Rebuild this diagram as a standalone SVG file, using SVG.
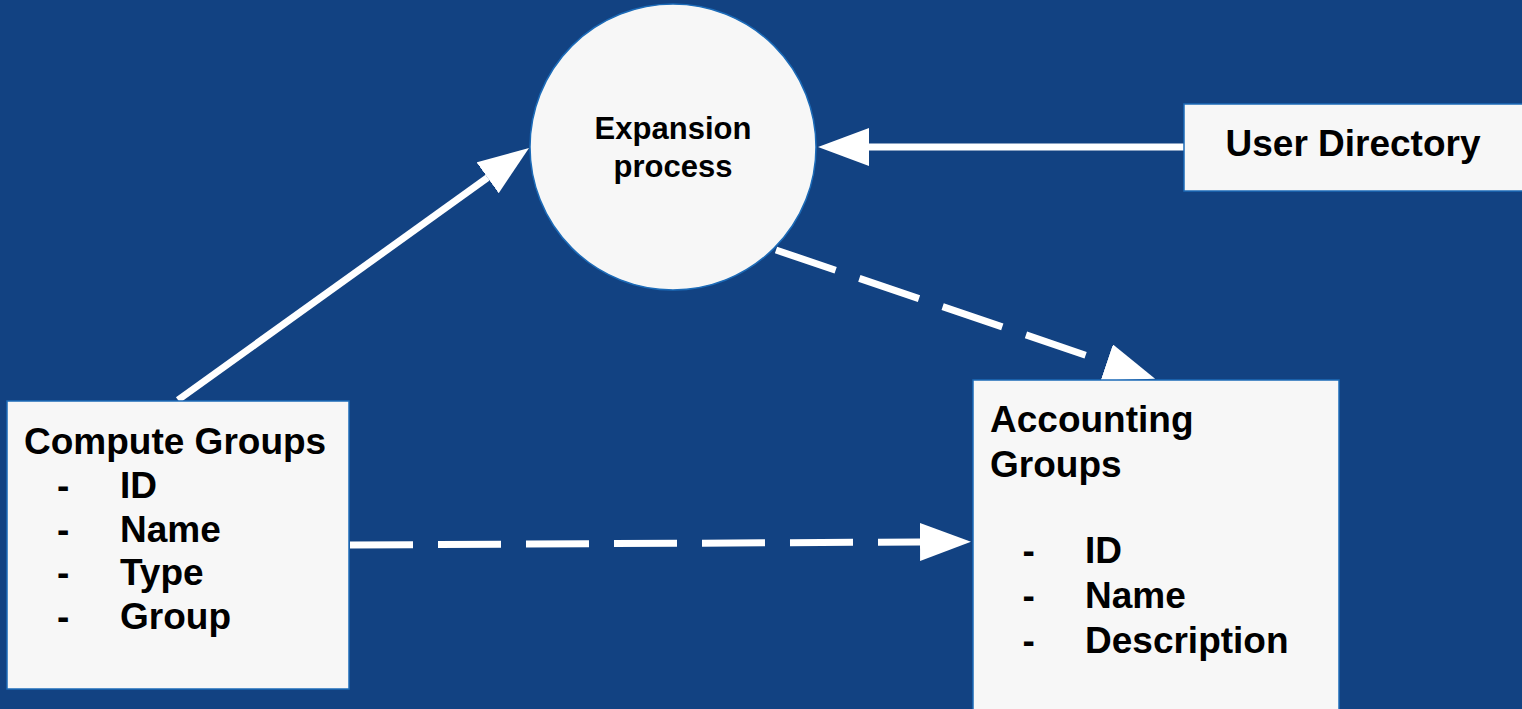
<svg xmlns="http://www.w3.org/2000/svg" width="1522" height="709" viewBox="0 0 1522 709">
  <defs>
    <style>
      .node { fill: #f7f7f7; stroke: #1c6bb8; stroke-width: 1.5; }
      .lbl { font-family: "Liberation Sans", Arial, Helvetica, sans-serif; font-weight: bold; fill: #000000; font-size: 37px; }
      .lbl-c { font-family: "Liberation Sans", Arial, Helvetica, sans-serif; font-weight: bold; fill: #000000; font-size: 31px; text-anchor: middle; }
      .conn { stroke: #ffffff; stroke-width: 7; fill: none; stroke-linecap: butt; }
      .dash { stroke-dasharray: 63 25; }
    </style>
    <marker id="head" markerUnits="userSpaceOnUse" markerWidth="52" markerHeight="40" refX="0" refY="19" orient="auto" viewBox="0 0 52 40">
      <path d="M0,0 L51,19 L0,38 Z" fill="#ffffff"/>
    </marker>
  </defs>
  <rect x="0" y="0" width="1522" height="709" fill="#124282"/>

  <g id="connectors">
    <line class="conn" x1="178" y1="400" x2="487.6" y2="177.7" marker-end="url(#head)"/>
    <line class="conn" x1="1184" y1="147" x2="869" y2="147" marker-end="url(#head)"/>
    <line class="conn dash" x1="776" y1="250" x2="1106.8" y2="362.4" marker-end="url(#head)"/>
    <line class="conn dash" x1="350" y1="545" x2="920" y2="542" marker-end="url(#head)"/>
  </g>

  <g id="expansion-process">
    <circle class="node" cx="673" cy="147" r="143"/>
    <text class="lbl-c" x="673" y="139">Expansion</text>
    <text class="lbl-c" x="673" y="177">process</text>
  </g>

  <g id="user-directory">
    <rect class="node" x="1184" y="104" width="350" height="87"/>
    <text class="lbl" x="1225.5" y="156">User Directory</text>
  </g>

  <g id="compute-groups">
    <rect class="node" x="7" y="401" width="342" height="288"/>
    <text class="lbl" x="24" y="454">Compute Groups</text>
    <text class="lbl" x="57" y="498">-</text><text class="lbl" x="120" y="498">ID</text>
    <text class="lbl" x="57" y="542">-</text><text class="lbl" x="120" y="542">Name</text>
    <text class="lbl" x="57" y="585">-</text><text class="lbl" x="120" y="585">Type</text>
    <text class="lbl" x="57" y="629">-</text><text class="lbl" x="120" y="629">Group</text>
  </g>

  <g id="accounting-groups">
    <rect class="node" x="973" y="380" width="366" height="340"/>
    <text class="lbl" x="990" y="432">Accounting</text>
    <text class="lbl" x="990" y="477">Groups</text>
    <text class="lbl" x="1022.5" y="563">-</text><text class="lbl" x="1085" y="563">ID</text>
    <text class="lbl" x="1022.5" y="608">-</text><text class="lbl" x="1085" y="608">Name</text>
    <text class="lbl" x="1022.5" y="653">-</text><text class="lbl" x="1085" y="653">Description</text>
  </g>
</svg>
